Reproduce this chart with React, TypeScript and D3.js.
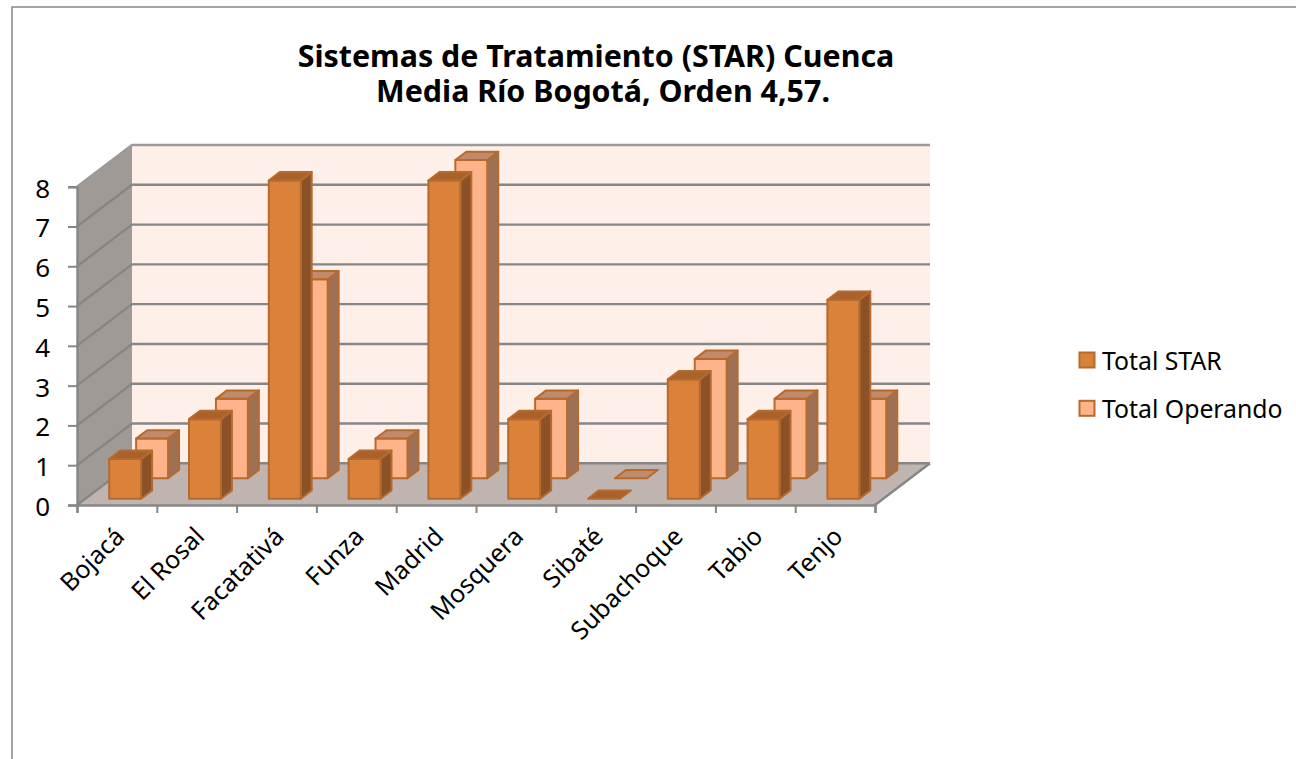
import React, { useEffect, useRef } from 'react';
import * as d3 from 'd3';

const categories = ['Bojacá', 'El Rosal', 'Facatativá', 'Funza', 'Madrid', 'Mosquera', 'Sibaté', 'Subachoque', 'Tabio', 'Tenjo'];
const totalStar = [1, 2, 8, 1, 8, 2, 0, 3, 2, 5];
const totalOperando = [1, 2, 5, 1, 8, 2, 0, 3, 2, 2];
const yTicks = [0, 1, 2, 3, 4, 5, 6, 7, 8];
const titleLines = ['Sistemas de Tratamiento (STAR) Cuenca', 'Media Río Bogotá, Orden 4,57.'];

const FONT = '"Noto Sans", sans-serif';
const GRID = '#868686';

const App = () => {
  const svgRef = useRef<SVGSVGElement>(null);

  useEffect(() => {
    const svg = d3.select(svgRef.current);
    svg.selectAll('*').remove();

    const x0 = 77;
    const x1 = 875;
    const yScale = d3.scaleLinear().domain([0, 8]).range([505, 186.7]);
    const xLinear = d3.scaleLinear().domain([0, categories.length]).range([x0, x1]);
    const xBand = d3.scaleBand<string>().domain(categories).range([x0, x1]).paddingInner(0.6).paddingOuter(0.3);

    const depthX = 55;
    const depthY = 41.7;
    const pt = (x: number, v: number, z: number) => [x + z * depthX, yScale(v) - z * depthY];
    const poly = (pts: number[][]) => pts.map(p => p.join(',')).join(' ');

    // page frame
    svg.append('rect')
      .attr('x', 12).attr('y', 7).attr('width', 1400).attr('height', 900)
      .attr('fill', '#fff').attr('stroke', GRID).attr('stroke-width', 1.5);

    // walls and floor
    svg.append('polygon')
      .attr('points', poly([pt(x0, 0, 1), pt(x1, 0, 1), pt(x1, 8, 1), pt(x0, 8, 1)]))
      .attr('fill', '#feefe8');
    svg.append('polygon')
      .attr('points', poly([pt(x0, 0, 0), pt(x0, 0, 1), pt(x0, 8, 1), pt(x0, 8, 0)]))
      .attr('fill', '#a09a96');
    svg.append('polygon')
      .attr('points', poly([pt(x0, 0, 0), pt(x1, 0, 0), pt(x1, 0, 1), pt(x0, 0, 1)]))
      .attr('fill', '#bfb4b0');

    yTicks.forEach(v => {
      svg.append('polyline')
        .attr('points', poly([pt(x0, v, 0), pt(x0, v, 1), pt(x1, v, 1)]))
        .attr('fill', 'none')
        .attr('stroke', v === 8 ? '#9a9a9a' : GRID)
        .attr('stroke-width', 2.4);
    });
    svg.append('line')
      .attr('x1', pt(x1, 0, 0)[0]).attr('y1', pt(x1, 0, 0)[1])
      .attr('x2', pt(x1, 0, 1)[0]).attr('y2', pt(x1, 0, 1)[1])
      .attr('stroke', GRID).attr('stroke-width', 2.4);

    // bars, back series first so the front one covers it
    const series = [
      { values: totalOperando, z: 0.64, front: '#fdb48b', side: '#9e7157', top: '#c08a6b' },
      { values: totalStar, z: 0.15, front: '#da813a', side: '#8a5226', top: '#a9622a' },
    ];
    const barDepth = 0.2;
    const stroke = '#b76a2e';

    series.forEach(s => {
      const g = svg.append('g').attr('stroke', stroke).attr('stroke-width', 2).attr('stroke-linejoin', 'round');
      s.values.forEach((v, i) => {
        const left = xBand(categories[i]) as number;
        const right = left + xBand.bandwidth();
        const a = s.z;
        const b = s.z + barDepth;
        if (v > 0) {
          g.append('polygon')
            .attr('points', poly([pt(right, 0, a), pt(right, 0, b), pt(right, v, b), pt(right, v, a)]))
            .attr('fill', s.side);
          g.append('polygon')
            .attr('points', poly([pt(left, 0, a), pt(right, 0, a), pt(right, v, a), pt(left, v, a)]))
            .attr('fill', s.front);
        }
        g.append('polygon')
          .attr('points', poly([pt(left, v, a), pt(right, v, a), pt(right, v, b), pt(left, v, b)]))
          .attr('fill', s.top);
      });
    });

    // axes
    const yAxis = d3.axisLeft(yScale).tickValues(yTicks).tickSize(9).tickPadding(18);
    const yG = svg.append('g').attr('transform', `translate(${x0},0)`).call(yAxis);
    yG.select('.domain').attr('stroke', GRID).attr('stroke-width', 2.4);
    yG.selectAll('.tick line').attr('stroke', GRID).attr('stroke-width', 2);
    yG.selectAll('text').attr('font-family', FONT).attr('font-size', 26).attr('dy', '0.4em').attr('fill', '#000');

    const xAxis = d3.axisBottom(xLinear).ticks(categories.length).tickSize(8).tickFormat(() => '');
    const xG = svg.append('g').attr('transform', `translate(0,${yScale(0)})`).call(xAxis);
    xG.select('.domain').attr('stroke', GRID).attr('stroke-width', 2.4);
    xG.selectAll('.tick line').attr('stroke', GRID).attr('stroke-width', 2);

    svg.append('g')
      .selectAll('text')
      .data(categories)
      .enter().append('text')
      .attr('transform', (d, i) => `translate(${xLinear(i + 0.5) + 9},${yScale(0) + 33}) rotate(-45)`)
      .attr('text-anchor', 'end')
      .attr('font-family', FONT)
      .attr('font-size', 25)
      .attr('fill', '#000')
      .text(d => d);

    // title
    svg.append('g')
      .selectAll('text')
      .data(titleLines)
      .enter().append('text')
      .attr('x', (d, i) => (i === 0 ? 596 : 603))
      .attr('y', (d, i) => 67 + i * 35)
      .attr('text-anchor', 'middle')
      .attr('font-family', FONT)
      .attr('font-weight', 'bold')
      .attr('font-size', 30.4)
      .attr('fill', '#000')
      .text(d => d);

    // legend
    const legend = [
      { name: 'Total STAR', fill: '#da813a' },
      { name: 'Total Operando', fill: '#fdb48b' },
    ];
    legend.forEach((l, i) => {
      const y = 360 + i * 48.3;
      svg.append('rect')
        .attr('x', 1079.5).attr('y', y - 7.5).attr('width', 15).attr('height', 15)
        .attr('fill', l.fill).attr('stroke', stroke).attr('stroke-width', 2);
      svg.append('text')
        .attr('x', 1102).attr('y', y + 10)
        .attr('font-family', FONT).attr('font-size', 24.8).attr('fill', '#000')
        .text(l.name);
    });
  }, []);

  return <svg ref={svgRef} width={1296} height={759} style={{ position: 'absolute', left: 0, top: 0 }}></svg>;
};

export default App;
